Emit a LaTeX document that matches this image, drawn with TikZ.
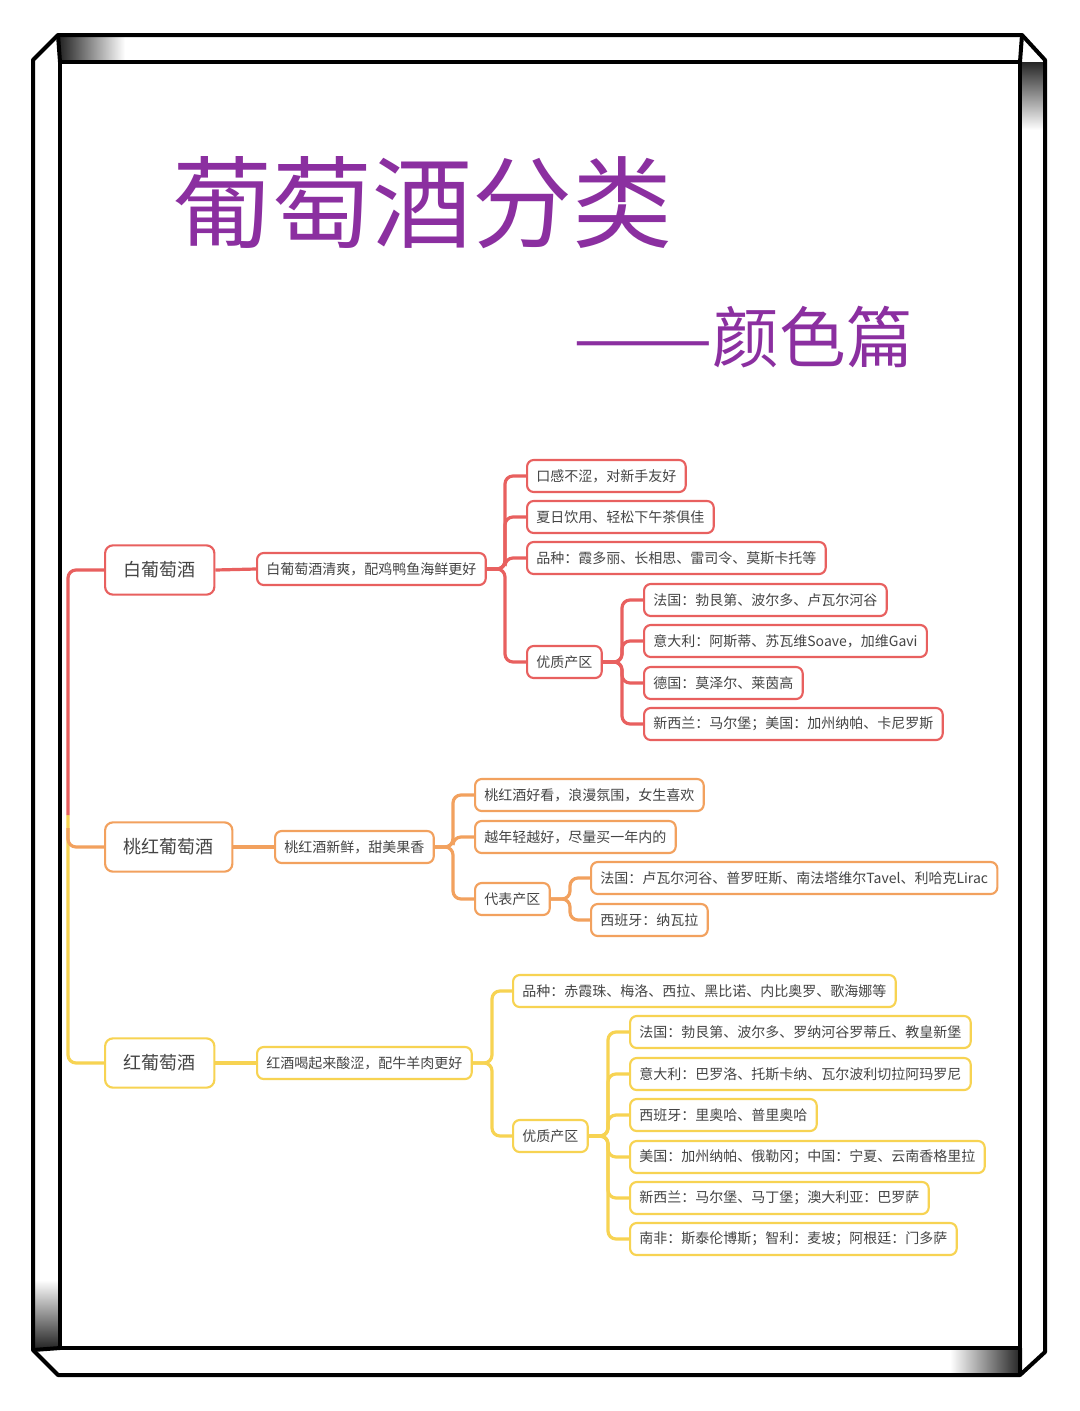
\documentclass[tikz,border=0pt]{standalone}
\usepackage{fontspec}
\setmainfont{Noto Sans CJK SC}
\definecolor{cR}{HTML}{E8605F}
\definecolor{cO}{HTML}{F2A15E}
\definecolor{cY}{HTML}{F7D352}
\definecolor{cP}{HTML}{8B2FA0}
\definecolor{txt}{HTML}{444444}
\tikzset{
 sm/.style={draw=#1,line width=1.6pt,rounded corners=5pt,fill=white,inner xsep=7pt,minimum height=24pt,anchor=west,font=\fontsize{10.5}{12}\selectfont,text=txt},
 bg/.style={draw=#1,line width=1.6pt,rounded corners=6pt,fill=white,inner xsep=14pt,minimum height=37pt,anchor=west,font=\fontsize{13.5}{15}\selectfont,text=txt},
 ln/.style={draw=#1,line width=2.4pt,rounded corners=6pt},
}
\begin{document}
\begin{tikzpicture}[x=0.75pt,y=-0.75pt]
\useasboundingbox (0,0) rectangle (1080,1411);
\fill[white] (0,0) rectangle (1080,1411);
% frame
\shade[left color=black!85,right color=white] (60,37) rectangle (125,61);
\shade[top color=black!85,bottom color=white] (1022,62) rectangle (1044,130);
\shade[left color=white,right color=black!85] (950,1350) rectangle (1020,1373);
\shade[top color=white,bottom color=black!85] (35,1280) rectangle (58,1348);
\draw[line width=3pt,line join=round] (58,35) -- (1022,35) -- (1045,60) -- (1045,1352) -- (1020,1375) -- (58,1375) -- (33,1350) -- (33,60) -- cycle;
\draw[line width=3pt] (60,62) rectangle (1020,1348);
\draw[line width=3pt] (58,35) -- (60,62) (1022,35)--(1020,62) (1020,1348)--(1020,1375) (60,1348)--(33,1350);
% titles
\node[text=cP,font=\fontsize{75}{80}\selectfont,anchor=west] (t1) at (168,203) {葡萄酒分类};
\node[text=cP,font=\fontsize{50}{55}\selectfont,anchor=west,inner xsep=0pt] (t2) at (573,337) {\scalebox{1.25}[1]{——}颜色篇};
% red
\node[bg=cR] (w) at (104,570) {白葡萄酒};
\node[sm=cR] (w1) at (256,569) {白葡萄酒清爽，配鸡鸭鱼海鲜更好};
\node[sm=cR] (w11) at (526,476) {口感不涩，对新手友好};
\node[sm=cR] (w12) at (526,517) {夏日饮用、轻松下午茶俱佳};
\node[sm=cR] (w13) at (526,558) {品种：霞多丽、长相思、雷司令、莫斯卡托等};
\node[sm=cR] (w14) at (526,662) {优质产区};
\node[sm=cR] (w141) at (643,600) {法国：勃艮第、波尔多、卢瓦尔河谷};
\node[sm=cR] (w142) at (643,641) {意大利：阿斯蒂、苏瓦维Soave，加维Gavi};
\node[sm=cR] (w143) at (643,683) {德国：莫泽尔、莱茵高};
\node[sm=cR] (w144) at (643,724) {新西兰：马尔堡；美国：加州纳帕、卡尼罗斯};
\draw[ln=cR] (w.east) -- (w1.west);
\foreach \c in {w11,w12,w13,w14} \draw[ln=cR] (w1.east) -- (w1.east -| 505,0) |- (\c.west);
\foreach \c in {w141,w142,w143,w144} \draw[ln=cR] (w14.east) -- (w14.east -| 622,0) |- (\c.west);
% orange
\node[bg=cO] (p) at (104,847) {桃红葡萄酒};
\node[sm=cO] (p1) at (274,847) {桃红酒新鲜，甜美果香};
\node[sm=cO] (p11) at (474,795) {桃红酒好看，浪漫氛围，女生喜欢};
\node[sm=cO] (p12) at (474,837) {越年轻越好，尽量买一年内的};
\node[sm=cO] (p13) at (474,899) {代表产区};
\node[sm=cO] (p131) at (590,878) {法国：卢瓦尔河谷、普罗旺斯、南法塔维尔Tavel、利哈克Lirac};
\node[sm=cO] (p132) at (590,920) {西班牙：纳瓦拉};
\draw[ln=cO] (p.east) -- (p1.west);
\foreach \c in {p11,p12,p13} \draw[ln=cO] (p1.east) -- (p1.east -| 453,0) |- (\c.west);
\foreach \c in {p131,p132} \draw[ln=cO] (p13.east) -- (p13.east -| 570,0) |- (\c.west);
% yellow
\node[bg=cY] (r) at (104,1063) {红葡萄酒};
\node[sm=cY] (r1) at (256,1063) {红酒喝起来酸涩，配牛羊肉更好};
\node[sm=cY] (r11) at (512,991) {品种：赤霞珠、梅洛、西拉、黑比诺、内比奥罗、歌海娜等};
\node[sm=cY] (r12) at (512,1136) {优质产区};
\node[sm=cY] (r121) at (629,1032) {法国：勃艮第、波尔多、罗纳河谷罗蒂丘、教皇新堡};
\node[sm=cY] (r122) at (629,1074) {意大利：巴罗洛、托斯卡纳、瓦尔波利切拉阿玛罗尼};
\node[sm=cY] (r123) at (629,1115) {西班牙：里奥哈、普里奥哈};
\node[sm=cY] (r124) at (629,1157) {美国：加州纳帕、俄勒冈；中国：宁夏、云南香格里拉};
\node[sm=cY] (r125) at (629,1198) {新西兰：马尔堡、马丁堡；澳大利亚：巴罗萨};
\node[sm=cY] (r126) at (629,1239) {南非：斯泰伦博斯；智利：麦坡；阿根廷：门多萨};
\draw[ln=cY] (r.east) -- (r1.west);
\foreach \c in {r11,r12} \draw[ln=cY] (r1.east) -- (r1.east -| 492,0) |- (\c.west);
\foreach \c in {r121,r122,r123,r124,r125,r126} \draw[ln=cY] (r12.east) -- (r12.east -| 608,0) |- (\c.west);
% root trunk
\coordinate (m1) at (68,815);
\coordinate (m2) at (68,828);
\draw[ln=cY] (m1) |- (r.west);
\draw[ln=cO] (m2) |- (p.west);
\draw[ln=cR] (w.west) -| (m1);
\end{tikzpicture}
\end{document}
